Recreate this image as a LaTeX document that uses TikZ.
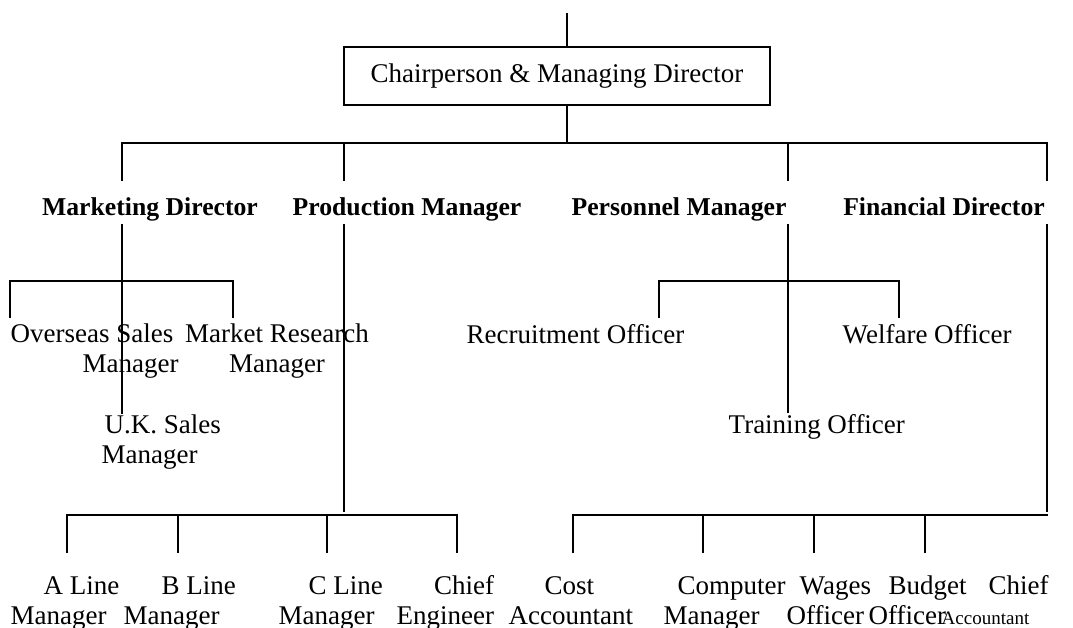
\documentclass[tikz,border=0pt]{standalone}
\usepackage{fontspec}
\setmainfont{Liberation Serif}
\usepackage{tikz}

\begin{document}
\begin{tikzpicture}[x=1pt, y=-1pt,
					line width=1.4pt,
					font=\fontsize{27}{30}\selectfont,
					chair/.style={draw, rectangle, minimum width=426pt, minimum height=58pt, inner sep=0pt},
					head/.style={font=\fontsize{25.7}{30}\selectfont\bfseries, inner sep=0pt, anchor=base},
					post/.style={inner sep=0pt, anchor=base west, align=left},
				]
				\useasboundingbox (0,0) rectangle (1073,628);

				\node[chair] (chair) at (557,76) {Chairperson \& Managing Director};

				% Directors and managers
				\node[head] (mktdir) at (150,216) {Marketing Director};
				\node[head] (prddir) at (407,216) {Production Manager};
				\node[head] (perdir) at (679,216) {Personnel Manager};
				\node[head] (findir) at (944,216) {Financial Director};

				% Marketing and personnel staff (base is the last line)
				\node[post] (overseas) at (10,372) {Overseas Sales\\\hspace*{72pt}Manager};
				\node[post,align=center,anchor=base] (research) at (277,372) {Market Research\\Manager};
				\node[post] (uksales) at (101,463) {\hspace*{3pt}U.K. Sales\\Manager};
				\node[post] (recruit) at (466,343) {Recruitment Officer};
				\node[post] (welfare) at (842,343) {Welfare Officer};
				\node[post] (training) at (728,433) {Training Officer};

				% Production and finance staff
				\node[post] (aline) at (10,624) {\hspace*{33pt}A Line\\Manager};
				\node[post] (bline) at (123,624) {\hspace*{38pt}B Line\\Manager};
				\node[post] (cline) at (278,624) {\hspace*{30pt}C Line\\Manager};
				\node[post,align=right] (chiefeng) at (396,624) {Chief\\Engineer};
				\node[post] (cost) at (508,624) {\hspace*{36pt}Cost\\Accountant};
				\node[post] (computer) at (663,624) {\hspace*{14pt}Computer\\Manager};
				\node[post] (wages) at (786,624) {\hspace*{13pt}Wages\\Officer};
				\node[post] (budget) at (868,624) {\hspace*{20pt}Budget\\Officer};
				\node[post] (chiefacc) at (941,624) {\hspace*{47pt}Chief\\{\fontsize{19}{30}\selectfont Accountant}};

				% Top level
				\coordinate (top) at (567,13);
				\coordinate (bus) at (567,143);
				\draw (top) -- (top |- chair.north);
				\draw (top |- chair.south) -- (bus);

				\coordinate (mktin) at (122,181);
				\coordinate (prdin) at (344,181);
				\coordinate (perin) at (788,181);
				\coordinate (finin) at (1047,181);
				\draw (mktin) -- (mktin |- bus) -- (finin |- bus) -- (finin);
				\draw (prdin) -- (prdin |- bus);
				\draw (perin) -- (perin |- bus);

				% Marketing
				\coordinate (mktout) at (122,224);
				\coordinate (mktbus) at (122,281);
				\coordinate (overseasin) at (10,318);
				\coordinate (researchin) at (233,318);
				\draw (mktout) -- (mktout |- uksales.north);
				\draw (overseasin) -- (overseasin |- mktbus) -- (researchin |- mktbus) -- (researchin);

				% Personnel
				\coordinate (perout) at (788,224);
				\coordinate (perbus) at (788,281);
				\coordinate (recruitin) at (659,318);
				\coordinate (welfarein) at (899,318);
				\draw (perout) -- (perout |- training.north);
				\draw (recruitin) -- (recruitin |- perbus) -- (welfarein |- perbus) -- (welfarein);

				% Production
				\coordinate (prdout) at (344,224);
				\coordinate (prdend) at (344,512);
				\coordinate (prdbus) at (344,515);
				\coordinate (alinein) at (67,553);
				\coordinate (blinein) at (178,553);
				\coordinate (clinein) at (327,553);
				\coordinate (chiefengin) at (457,553);
				\draw (prdout) -- (prdend);
				\draw (alinein) -- (alinein |- prdbus) -- (chiefengin |- prdbus) -- (chiefengin);
				\draw (blinein) -- (blinein |- prdbus);
				\draw (clinein) -- (clinein |- prdbus);

				% Finance
				\coordinate (finout) at (1047,224);
				\coordinate (finend) at (1047,512);
				\coordinate (finbus) at (1048,515);
				\coordinate (costin) at (573,553);
				\coordinate (computerin) at (703,553);
				\coordinate (wagesin) at (814,553);
				\coordinate (budgetin) at (925,553);
				\draw (finout) -- (finend);
				\draw (costin) -- (costin |- finbus) -- (finbus);
				\draw (computerin) -- (computerin |- finbus);
				\draw (wagesin) -- (wagesin |- finbus);
				\draw (budgetin) -- (budgetin |- finbus);

			\end{tikzpicture}
\end{document}
